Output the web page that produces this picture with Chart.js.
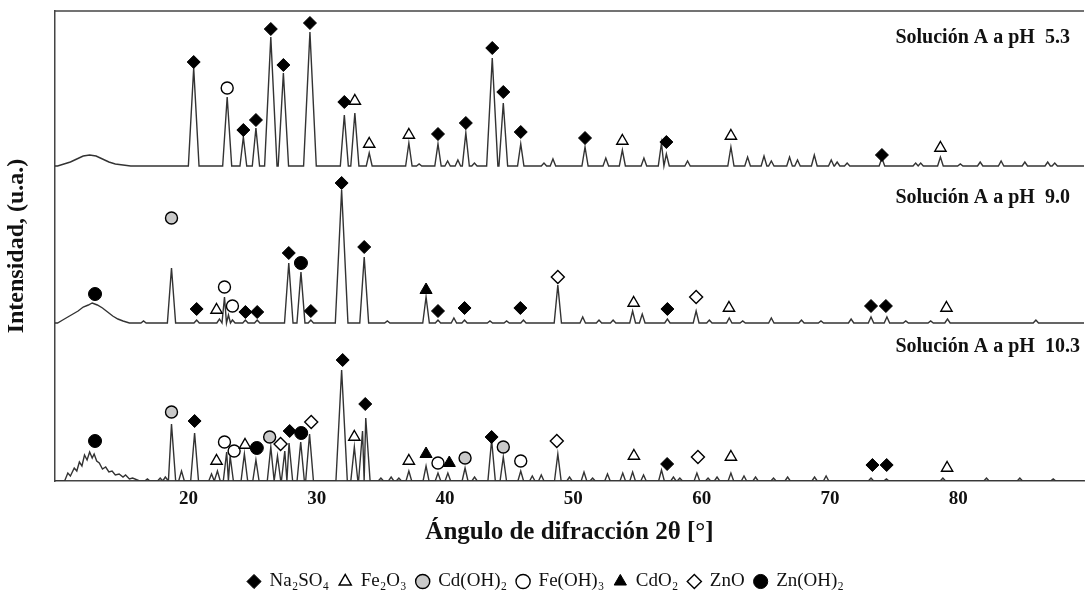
<!DOCTYPE html>
<html><head><meta charset="utf-8">
<script src="https://cdn.jsdelivr.net/npm/chart.js@4.4.1/dist/chart.umd.min.js"></script>
<style>html,body{margin:0;padding:0;background:#fff;}canvas{display:block;}</style>
</head><body>
<canvas id="c" width="1092" height="596"></canvas>
<script>
// ---- data ----
const xTickLabels = [20, 30, 40, 50, 60, 70, 80];
const panelLabels = ['Solución A a pH  5.3', 'Solución A a pH  9.0', 'Solución A a pH  10.3'];

// amorphous humps [2θ, intensity]
const hump53 = [[9.8,0],[10.3,2],[10.8,4],[11.3,7],[11.8,10],[12.3,11],[12.8,10],[13.3,7],[13.8,4],[14.3,2],[14.9,1],[15.5,0]];
const hump90 = [[9.8,0],[10.2,3],[10.6,6],[11.0,9],[11.4,12],[11.8,16],[12.2,18],[12.5,20],[12.9,18],[13.3,15],[13.7,11],[14.1,7],[14.5,4],[14.9,2],[15.4,0]];
const hump103 = [[10.35,0],[10.6,8],[10.8,5],[11.1,13],[11.3,10],[11.5,19],[11.7,15],[11.9,26],[12.1,21],[12.3,29],[12.5,23],[12.65,27],[12.85,20],[13.05,18],[13.3,12],[13.55,14],[13.8,9],[14.05,10],[14.3,6],[14.6,7],[14.9,4],[15.1,6],[15.4,2],[15.65,3],[16.2,0]];

// diffraction peaks [2θ, intensity]
const peaks53 = [[20.41,98],[23.02,69],[24.28,29],[25.26,38],[26.42,129],[27.40,93],[29.47,134],[32.15,51],[32.97,53],[34.09,13],
  [37.18,23],[37.98,2],[39.45,22],[40.20,5],[41.00,6],[41.62,33],[42.29,3],[43.68,108],[44.54,63],[45.90,22],[47.71,3],[48.41,7],
  [50.91,19],[52.53,8],[53.82,16],[55.50,8],[56.87,23],[57.25,12],[58.90,5],[62.28,19],[63.58,9],[64.86,10],[65.43,5],[66.85,9],
  [67.47,6],[68.78,11],[70.10,6],[70.56,4],[71.34,3],[74.05,8],[76.68,3],[77.07,3],[78.61,9],[80.16,2],[81.71,4],[83.34,5],
  [85.19,4],[86.97,4],[87.52,3]];
const peaks90 = [[16.5,2],[18.68,55],[20.64,3],[22.42,4],[22.81,26],[23.12,8],[23.43,3],[24.44,3],[25.36,3],[27.82,60],[28.77,51],
  [29.54,3],[31.94,133],[33.70,66],[35.5,2],[38.52,26],[39.45,3],[40.69,5],[41.52,3],[43.5,2],[44.8,2],[46.11,3],[48.79,38],
  [50.73,6],[52.0,3],[53.1,3],[54.62,12],[55.37,9],[57.33,4],[59.57,12],[60.6,3],[62.15,5],[63.2,2],[65.43,5],[67.78,3],
  [69.3,2],[71.65,4],[73.20,6],[74.44,6],[75.91,2],[77.85,2],[79.16,4],[86.05,3]];
const peaks103 = [[16.8,2],[17.8,3],[18.2,4],[18.68,57],[19.46,10],[20.48,48],[21.80,7],[22.26,10],[22.98,29],[23.25,25],[24.36,27],
  [25.26,21],[26.42,34],[26.94,25],[27.51,30],[27.84,38],[28.75,39],[29.44,47],[31.94,111],[32.93,34],[33.57,50],[33.82,63],
  [35.0,3],[35.8,4],[36.4,3],[37.18,10],[38.52,15],[39.45,8],[40.22,8],[41.56,13],[42.3,4],[43.63,41],[44.54,24],[45.90,10],
  [46.8,5],[47.5,6],[48.79,27],[49.7,4],[50.83,9],[51.5,3],[52.66,7],[53.85,8],[54.62,9],[55.47,6],[56.87,11],[57.8,4],[58.3,3],
  [59.63,8],[60.5,3],[61.2,4],[62.28,8],[63.3,5],[64.2,4],[65.6,3],[66.7,4],[68.8,4],[69.7,5],[73.2,3],[74.4,2],[78.8,3],
  [82.2,3],[84.8,3],[87.4,2]];

// phase markers [pattern index (0 = pH 5.3, 1 = pH 9.0, 2 = pH 10.3), 2θ, height above that pattern's baseline]
const na2so4 = [[0,20.41,104],[0,24.28,36],[0,25.26,46],[0,26.42,137],[0,27.40,101],[0,29.47,143],[0,32.15,64],[0,39.45,32],
  [0,41.62,43],[0,43.68,118],[0,44.54,74],[0,45.90,34],[0,50.91,28],[0,57.25,24],[0,74.05,11],
  [1,20.64,14],[1,24.44,11],[1,25.36,11],[1,27.82,70],[1,29.54,12],[1,31.94,140],[1,33.70,76],[1,39.45,12],[1,41.52,15],
  [1,45.87,15],[1,57.33,14],[1,73.20,17],[1,74.36,17],
  [2,20.48,60],[2,27.89,50],[2,32.02,121],[2,33.78,77],[2,43.63,44],[2,57.31,17],[2,73.31,16],[2,74.42,16]];
const fe2o3 = [[0,32.97,65],[0,34.09,22],[0,37.18,31],[0,53.82,25],[0,62.28,30],[0,78.61,18],
  [1,22.19,13],[1,54.70,20],[1,62.13,15],[1,79.08,15],
  [2,22.19,20],[2,24.41,36],[2,32.93,44],[2,37.18,20],[2,54.72,25],[2,62.28,24],[2,79.13,13]];
const cdoh2 = [[1,18.68,105],[2,18.68,69],[2,26.33,44],[2,41.56,23],[2,44.54,34]];
const feoh3 = [[0,23.02,78],[1,22.81,36],[1,23.43,17],[2,22.81,39],[2,23.56,30],[2,39.45,18],[2,45.90,20]];
const cdo2 = [[1,38.52,33],[2,38.52,27],[2,40.33,18]];
const zno = [[1,48.79,46],[1,59.57,26],[2,27.18,37],[2,29.57,59],[2,48.71,40],[2,59.71,24]];
const znoh2 = [[1,12.72,29],[1,28.77,60],[2,12.72,40],[2,25.33,33],[2,28.79,48]];

// ---- layout / style ----
const X_MIN = 9.6, X_MAX = 89.8, Y_MAX = 470;
const baseOffset = [315, 158, 0];
const labelAt = [[75.1, 438], [75.1, 278], [75.1, 129]];
const ink = '#111';
const serif = "'Liberation Serif', 'DejaVu Serif', serif";
Chart.defaults.font.family = serif;

function buildTrace(hump, peaks, off) {
  const ps = peaks.slice().sort((a, b) => a[0] - b[0]).map(([c, h]) => {
    const w = 0.2 + h * 0.0022;
    return { c, h, l: c - w, r: c + w };
  });
  for (let i = 0; i < ps.length - 1; i++) {
    if (ps[i].r > ps[i + 1].l) { const m = (ps[i].c + ps[i + 1].c) / 2; ps[i].r = m; ps[i + 1].l = m; }
  }
  const pts = [[X_MIN, 0], [X_MAX, 0], ...hump];
  ps.forEach(p => pts.push([p.l, 0], [p.c, p.h], [p.r, 0]));
  pts.sort((a, b) => a[0] - b[0]);
  return pts.map(([x, y]) => ({ x, y: y + off }));
}
function marks(arr) { return arr.map(([p, x, y]) => ({ x, y: y + baseOffset[p] })); }
function mk(label, arr, style, bg, r, bw) {
  return { type: 'scatter', label, data: marks(arr), pointStyle: style, backgroundColor: bg, borderColor: '#000',
    borderWidth: bw, pointRadius: r, pointHoverRadius: r, showLine: false, order: 0 };
}
function tr(hump, peaks, off) {
  return { type: 'line', label: 'trace', data: buildTrace(hump, peaks, off), borderColor: '#333', borderWidth: 1.4,
    pointRadius: 0, fill: false, tension: 0, order: 1 };
}

const frame = {
  id: 'frame',
  afterLayout(chart) {
    if (chart.legend) { chart.legend.top += 10; chart.legend.bottom += 10; }
  },
  afterDraw(chart) {
    const { ctx, chartArea: a, scales: { x, y } } = chart;
    ctx.save();
    ctx.strokeStyle = '#444'; ctx.lineWidth = 1.5;
    ctx.beginPath(); ctx.moveTo(a.left, a.top); ctx.lineTo(a.right, a.top); ctx.stroke();
    ctx.fillStyle = ink; ctx.font = 'bold 20px ' + serif; ctx.textAlign = 'left'; ctx.textBaseline = 'alphabetic';
    panelLabels.forEach((t, i) => ctx.fillText(t, x.getPixelForValue(labelAt[i][0]), y.getPixelForValue(labelAt[i][1])));
    ctx.restore();
  }
};

new Chart(document.getElementById('c'), {
  data: {
    datasets: [
      mk('Na\u2082SO\u2084', na2so4, 'rectRot', '#000', 6.5, 1),
      mk('Fe\u2082O\u2083', fe2o3, 'triangle', '#fff', 6.5, 1.4),
      mk('Cd(OH)\u2082', cdoh2, 'circle', '#c9c9c9', 6, 1.4),
      mk('Fe(OH)\u2083', feoh3, 'circle', '#fff', 6, 1.4),
      mk('CdO\u2082', cdo2, 'triangle', '#000', 7, 1),
      mk('ZnO', zno, 'rectRot', '#fff', 6.5, 1.4),
      mk('Zn(OH)\u2082', znoh2, 'circle', '#000', 6.5, 1),
      tr(hump53, peaks53, baseOffset[0]),
      tr(hump90, peaks90, baseOffset[1]),
      tr(hump103, peaks103, baseOffset[2])
    ]
  },
  options: {
    responsive: false, animation: false, devicePixelRatio: 1, events: [],
    layout: { padding: { top: 11, right: 0, bottom: 5, left: 0 } },
    scales: {
      x: {
        type: 'linear', min: X_MIN, max: X_MAX,
        afterBuildTicks: s => { s.ticks = xTickLabels.map(v => ({ value: v })); },
        ticks: { font: { size: 19, weight: 'bold' }, color: ink, padding: 7, maxRotation: 0, autoSkip: false },
        grid: { display: false, drawTicks: false },
        border: { display: true, color: '#444', width: 1.5 },
        title: { display: true, text: 'Ángulo de difracción 2θ [°]', font: { size: 25, weight: 'bold' }, color: ink, padding: { top: 4, bottom: 4 } },
        afterFit: s => { s.height = 71; }
      },
      y: {
        type: 'linear', min: 0, max: Y_MAX,
        ticks: { display: false },
        grid: { display: false, drawTicks: false },
        border: { display: true, color: '#444', width: 1.5 },
        title: { display: true, text: 'Intensidad, (u.a.)', font: { size: 24, weight: 'bold' }, color: ink, padding: { top: 2, bottom: 0 } },
        afterFit: s => { s.width = 55; }
      }
    },
    plugins: {
      tooltip: { enabled: false },
      legend: {
        position: 'bottom',
        labels: { usePointStyle: true, boxWidth: 12, boxHeight: 10, padding: 10, font: { size: 19 }, color: ink,
          filter: item => item.datasetIndex < 7 }
      }
    }
  },
  plugins: [frame]
});
</script>
</body></html>
